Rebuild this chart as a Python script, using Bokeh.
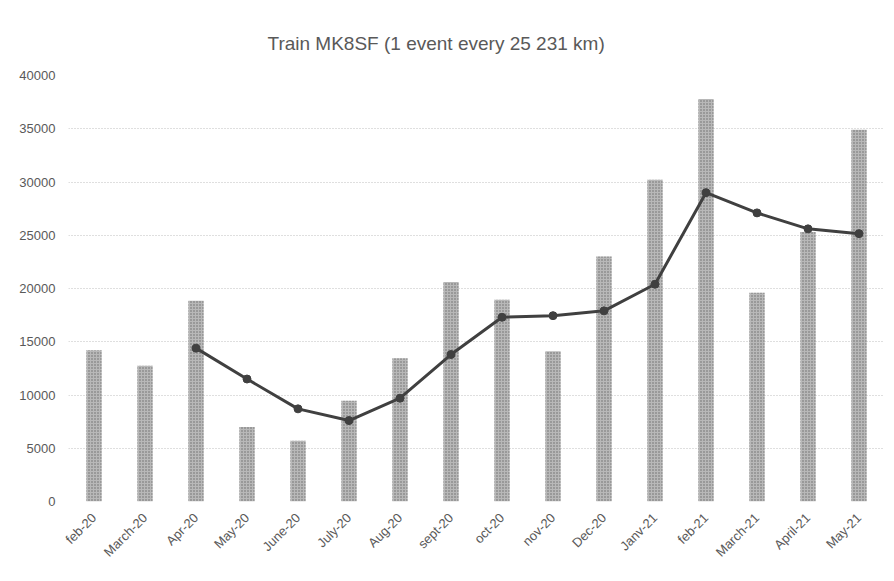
from bokeh.plotting import figure
from bokeh.models import ColumnDataSource, FactorRange, Range1d, FixedTicker
from bokeh.embed import file_html
from bokeh.resources import INLINE
import math

months = ["feb-20", "March-20", "Apr-20", "May-20", "June-20", "July-20", "Aug-20", "sept-20",
          "oct-20", "nov-20", "Dec-20", "Janv-21", "feb-21", "March-21", "April-21", "May-21"]
km_per_event = [14200, 12750, 18850, 7000, 5700, 9450, 13450, 20600,
                18950, 14100, 23000, 30200, 37800, 19600, 25300, 34900]
avg_months = ["Apr-20", "May-20", "June-20", "July-20", "Aug-20", "sept-20", "oct-20",
              "nov-20", "Dec-20", "Janv-21", "feb-21", "March-21", "April-21", "May-21"]
avg_values = [14400, 11500, 8700, 7600, 9700, 13800, 17300, 17450, 17900, 20400,
              29000, 27100, 25600, 25150]
y_ticks = [0, 5000, 10000, 15000, 20000, 25000, 30000, 35000, 40000]
title_text = "Train MK8SF (1 event every 25 231 km)"

FONT = "Liberation Sans"
GREY = "#595959"

p = figure(x_range=FactorRange(*months, range_padding=0), y_range=Range1d(0, 40000),
           width=894, height=581, output_backend="svg", toolbar_location=None,
           min_border_left=68, min_border_right=10, min_border_top=75, min_border_bottom=80,
           title=title_text)
p.outline_line_color = None
p.background_fill_color = "white"
p.border_fill_color = "white"

p.title.align = "left"
p.title.offset = 199
p.title.text_font = FONT
p.title.text_font_size = "19px"
p.title.text_font_style = "normal"
p.title.text_color = GREY
p.title.standoff = 44

bars = ColumnDataSource(dict(x=months, top=km_per_event))
p.vbar(x="x", top="top", width=0.3, source=bars, fill_color="#b8b8b8", line_color=None,
       hatch_pattern="dot", hatch_color="#6a6a6a", hatch_scale=3, hatch_weight=1)

line = ColumnDataSource(dict(x=avg_months, y=avg_values))
p.line(x="x", y="y", source=line, line_color="#404040", line_width=3)
p.scatter(x="x", y="y", source=line, size=8, fill_color="#404040", line_color="#404040")

p.yaxis.ticker = FixedTicker(ticks=y_ticks)
p.ygrid.ticker = FixedTicker(ticks=y_ticks)
p.ygrid.grid_line_color = "#bfbfbf"
p.ygrid.grid_line_dash = "1 2"
p.xgrid.grid_line_color = None

for ax in (p.xaxis[0], p.yaxis[0]):
    ax.axis_line_color = None
    ax.major_tick_line_color = None
    ax.minor_tick_line_color = None
    ax.major_tick_out = 0
    ax.major_tick_in = 0
    ax.minor_tick_out = 0
    ax.major_label_text_color = GREY
    ax.major_label_text_font = FONT
p.yaxis.major_label_text_font_size = "13px"
p.xaxis.major_label_text_font_size = "13px"
p.yaxis.major_label_standoff = 13
p.xaxis.major_label_orientation = math.pi / 4
p.xaxis.major_label_standoff = 14

open("out.html", "w").write(file_html(p, INLINE))
